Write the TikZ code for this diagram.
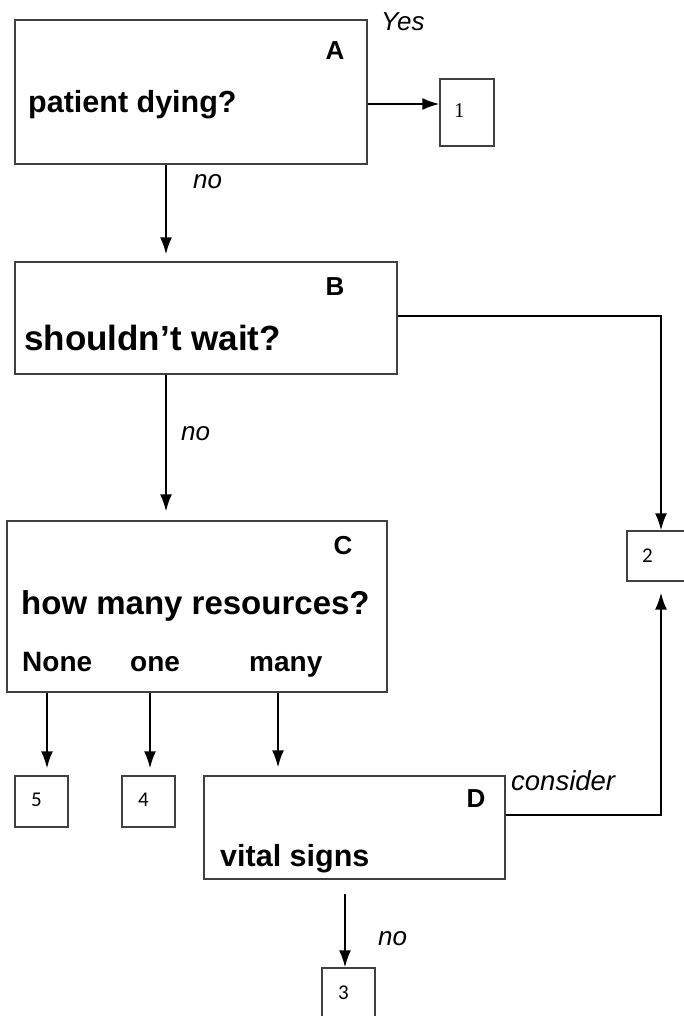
\documentclass[tikz,border=0pt]{standalone}
\usepackage{fontspec}
\setmainfont{Liberation Sans}
\newfontfamily\numfont{Carlito}
\newfontfamily\onefont{Liberation Serif}
\usetikzlibrary{arrows.meta}

\begin{document}
\begin{tikzpicture}[x=1pt,y=-1pt,
		box/.style={draw=black!75,line width=1.3pt,inner sep=0pt},
		qtext/.style={anchor=base west,inner sep=0pt,font=\fontsize{30.5}{36}\selectfont\bfseries},
		letter/.style={anchor=base,inner sep=0pt,font=\fontsize{26}{30}\selectfont\bfseries},
		choice/.style={anchor=base west,inner sep=0pt,font=\fontsize{28}{32}\selectfont\bfseries},
		lbl/.style={anchor=base west,inner sep=0pt,font=\fontsize{26}{30}\selectfont\itshape},
		num/.style={anchor=base west,inner sep=0pt,font=\fontsize{21}{24}\selectfont\numfont},
		arr/.style={-{Latex[length=17pt,width=12pt]},line width=2pt}]
	\useasboundingbox (0,0) rectangle (683,1016);
	\node[box,minimum width=352,minimum height=144] (A) at (191,92) {};
	\node[box,minimum width=54,minimum height=67] (1) at (467,112.5) {};
	\node[box,minimum width=382,minimum height=112] (B) at (206,318) {};
	\node[box,minimum width=68,minimum height=50] (2) at (661,556) {};
	\node[box,minimum width=380,minimum height=171] (C) at (197,606.5) {};
	\node[box,minimum width=53,minimum height=51] (5) at (41.5,801.5) {};
	\node[box,minimum width=53,minimum height=51] (4) at (148.5,801.5) {};
	\node[box,minimum width=301,minimum height=103] (D) at (354.5,827.5) {};
	\node[box,minimum width=53,minimum height=62] (3) at (348.5,999) {};

	\node[letter] (tA) at (335,60) {A};
	\node[letter] (tB) at (335,295) {B};
	\node[letter] (tC) at (343,554) {C};
	\node[letter] (tD) at (476,807) {D};
	\node[qtext] (qA) at (28,113) {patient dying?};
	\node[qtext,font=\fontsize{35}{40}\selectfont\bfseries] (qB) at (24,350) {shouldn’t wait?};
	\node[qtext,font=\fontsize{33}{38}\selectfont\bfseries] (qC) at (21,614) {how many resources?};
	\node[qtext] (qD) at (220,866) {vital signs};
	\node[choice] (none) at (22,671) {None};
	\node[choice] (one) at (130,671) {one};
	\node[choice] (many) at (249,671) {many};

	\node[lbl] (yes) at (381,31) {Yes};
	\node[lbl] (noA) at (193,189) {no};
	\node[lbl] (noB) at (181,440) {no};
	\node[lbl,font=\fontsize{27.5}{32}\selectfont\itshape] (cons) at (511,790) {consider};
	\node[lbl] (noD) at (378,945) {no};

	\node[num,font=\fontsize{21}{24}\selectfont\onefont] (n1) at (454,118) {1};
	\node[num] (n2) at (642,562) {2};
	\node[num] (n3) at (338,999) {3};
	\node[num] (n4) at (138,806) {4};
	\node[num] (n5) at (31,806) {5};

	\coordinate (ya) at (0,104);
	\coordinate (xab) at (166,0);
	\coordinate (yb2) at (0,316);
	\coordinate (yd2) at (0,815);
	\coordinate (x5) at (47,0);
	\coordinate (x4) at (150,0);
	\coordinate (xd) at (278,0);
	\coordinate (x3) at (345,0);

	\draw[arr] (A.east |- ya) -- (1.west |- ya);
	\draw[arr,shorten >=7pt] (xab |- A.south) -- (xab |- B.north);
	\draw[arr,shorten >=9pt] (xab |- B.south) -- (xab |- C.north);
	\draw[arr] (B.east |- yb2) -| (2.north);
	\draw[arr,shorten >=11pt] (D.east |- yd2) -| (2.south);
	\draw[arr,shorten >=7pt] (x5 |- C.south) -- (x5 |- 5.north);
	\draw[arr,shorten >=7pt] (x4 |- C.south) -- (x4 |- 4.north);
	\draw[arr,shorten >=8pt] (xd |- C.south) -- (xd |- D.north);
	\draw[arr,shorten <=14pt] (x3 |- D.south) -- (x3 |- 3.north);
\end{tikzpicture}
\end{document}
